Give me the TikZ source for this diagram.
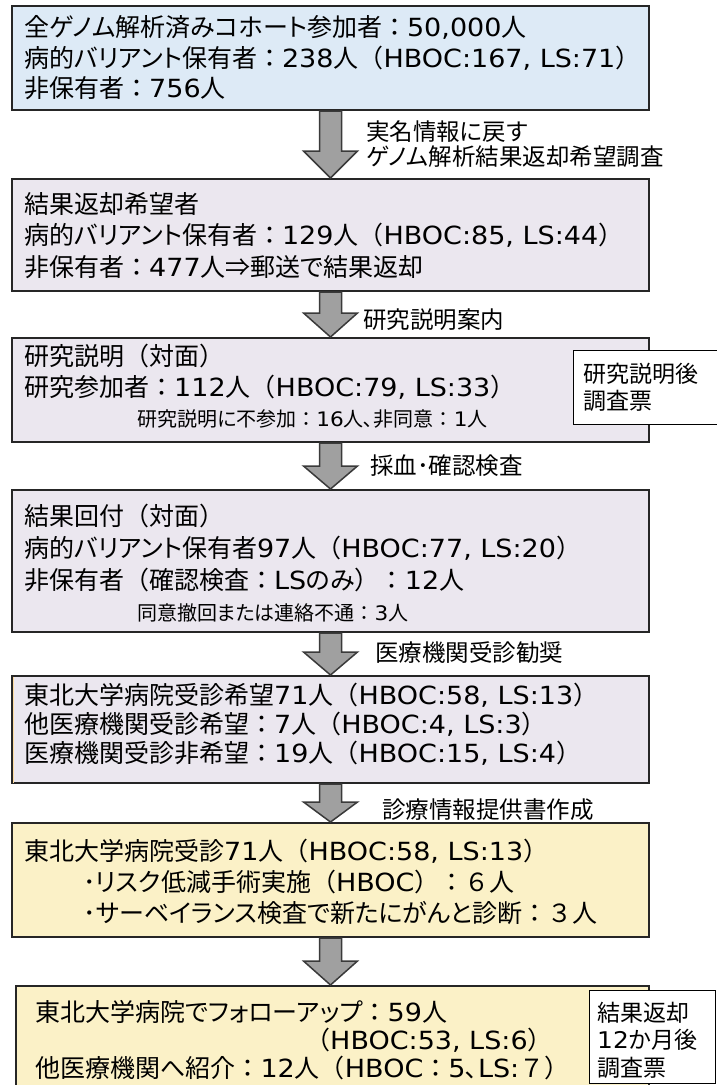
\documentclass[tikz,border=0pt]{standalone}
\usepackage{fontspec}
\setmainfont{Noto Sans CJK JP}
\newfontfamily\latf{DejaVu Sans}[FakeStretch=1.08]
\newfontfamily\kanaf{Noto Sans CJK JP}[RawFeature=+palt]
\newcommand\lat[1]{{\latf #1}}
\newcommand\kn[1]{{\kanaf #1}}
\usetikzlibrary{calc}
\definecolor{bluefill}{HTML}{DDEAF6}
\definecolor{lavfill}{HTML}{EBE7EF}
\definecolor{yelfill}{HTML}{FBF1C7}
\definecolor{boxline}{HTML}{262626}
\definecolor{arrfill}{HTML}{A0A0A0}
\definecolor{arrline}{HTML}{3A3A3A}
\newcommand\stagearrow[3]{%
  \draw[blockarrow] let \p1=(#1.south), \p2=(#2.north) in
    (\x1-11pt,\y1) -- (\x1+11pt,\y1) -- (\x1+11pt,\y2+#3) -- (\x1+27pt,\y2+#3)
    -- (\x1,\y2) -- (\x1-27pt,\y2+#3) -- (\x1-11pt,\y2+#3) -- cycle;}
\begin{document}
\begin{tikzpicture}[x=1pt,y=-1pt,
  stagebox/.style={draw=boxline, line width=2pt, anchor=north west, inner sep=0pt},
  sidebox/.style={draw=black, line width=1pt, fill=white, anchor=north west, inner sep=0pt},
  maintext/.style={anchor=west, align=left, inner sep=0pt, font=\fontsize{25}{#1}\selectfont},
  maintext/.default=28,
  smalltext/.style={anchor=west, inner sep=0pt, font=\fontsize{20}{24}\selectfont},
  labeltext/.style={anchor=west, align=left, inner sep=0pt, font=\fontsize{23.5}{#1}\selectfont},
  labeltext/.default=28,
  sidetext/.style={anchor=west, align=left, inner sep=0pt, font=\fontsize{23}{#1}\selectfont},
  sidetext/.default=28,
  blockarrow/.style={draw=arrline, line width=1.5pt, fill=arrfill, line join=miter},
]
\useasboundingbox (0,0) rectangle (717,1085);

% stage boxes
\node[stagebox, fill=bluefill, minimum width=637pt, minimum height=104pt] (b1) at (11,5) {};
\node[stagebox, fill=lavfill, minimum width=637pt, minimum height=112pt] (b2) at (11,178) {};
\node[stagebox, fill=lavfill, minimum width=637pt, minimum height=104pt] (b3) at (11,337) {};
\node[stagebox, fill=lavfill, minimum width=637pt, minimum height=142pt] (b4) at (11,489) {};
\node[stagebox, fill=lavfill, minimum width=637pt, minimum height=107pt] (b5) at (11,675) {};
\draw[yelfill!80!orange, line width=1.5pt] ([xshift=2.5pt,yshift=-1.5pt]b5.north west) -- ([xshift=2.5pt,yshift=1.5pt]b5.south west);
\node[stagebox, fill=yelfill, minimum width=637pt, minimum height=114pt] (b6) at (11,822) {};
\node[stagebox, fill=yelfill, minimum width=633pt, minimum height=120pt] (b7) at (15,985) {};

% side boxes
\node[sidebox, minimum width=147pt, minimum height=74pt] (s3) at (573,350) {};
\node[sidebox, minimum width=126pt, minimum height=93pt] (s7) at (589,990) {};

% arrows
\stagearrow{b1}{b2}{27pt}
\stagearrow{b2}{b3}{24pt}
\stagearrow{b3}{b4}{23pt}
\stagearrow{b4}{b5}{23pt}
\stagearrow{b5}{b6}{20pt}
\stagearrow{b6}{b7}{24pt}

% texts in boxes
\node[maintext=30.5] (t1) at (24,58) {全\kn{ゲノム}解析済\kn{みコホート}参加者：\lat{50,000}人\\病的\kn{バリアント}保有者：\lat{238}人（\lat{HBOC:167, LS:71}）\\非保有者：\lat{756}人};
\node[maintext=31.5] (t2) at (24,235.5) {結果返却希望者\\病的\kn{バリアント}保有者：\lat{129}人（\lat{HBOC:85, LS:44}）\\非保有者：\lat{477}人⇒郵送\kn{で}結果返却};
\node[maintext=31] (t3) at (24,371.5) {研究説明（対面）\\研究参加者：\lat{112}人（\lat{HBOC:79, LS:33}）};
\node[smalltext] (t3s) at (137,419) {研究説明\kn{に}不参加：\lat{16}人､非同意：\lat{1}人};
\node[maintext=32] (t4) at (24,548) {結果回付（対面）\\病的\kn{バリアント}保有者\lat{97}人（\lat{HBOC:77, LS:20}）\\非保有者（確認検査：\lat{LS}\kn{のみ}）：\lat{12}人};
\node[smalltext] (t4s) at (137,613) {同意撤回\kn{または}連絡不通：\lat{3}人};
\node[maintext=29] (t5) at (24,724) {東北大学病院受診希望\lat{71}人（\lat{HBOC:58, LS:13}）\\他医療機関受診希望：\lat{7}人（\lat{HBOC:4, LS:3}）\\医療機関受診非希望：\lat{19}人（\lat{HBOC:15, LS:4}）};
\node[maintext=31] (t6) at (24,882) {東北大学病院受診\lat{71}人（\lat{HBOC:58, LS:13}）\\\hspace*{59pt}･\kn{リスク}低減手術実施（\lat{HBOC}）：６人\\\hspace*{59pt}･\kn{サーベイランス}検査\kn{で}新\kn{たにがんと}診断：３人};
\node[maintext=28] (t7) at (35,1040) {東北大学病院\kn{でフォローアップ}：\lat{59}人\\\hspace*{270pt}（\lat{HBOC:53, LS:6}）\\他医療機関\kn{へ}紹介：\lat{12}人（\lat{HBOC}：\lat{5}､\lat{LS:}７）};

% side texts
\node[sidetext=27] (st3) at (583,387.5) {研究説明後\\調査票};
\node[sidetext=27.5] (st7) at (597,1040) {結果返却\\\lat{12}\kn{か}月後\\調査票};

% arrow labels
\node[labeltext=25] (l1) at (366,144.5) {実名情報\kn{に}戻\kn{す}\\\kn{ゲノム}解析結果返却希望調査};
\node[labeltext] (l2) at (363,320) {研究説明案内};
\node[labeltext] (l3) at (370,466) {採血･確認検査};
\node[labeltext] (l4) at (375,653) {医療機関受診勧奨};
\node[labeltext] (l5) at (382,810) {診療情報提供書作成};
\end{tikzpicture}
\end{document}
